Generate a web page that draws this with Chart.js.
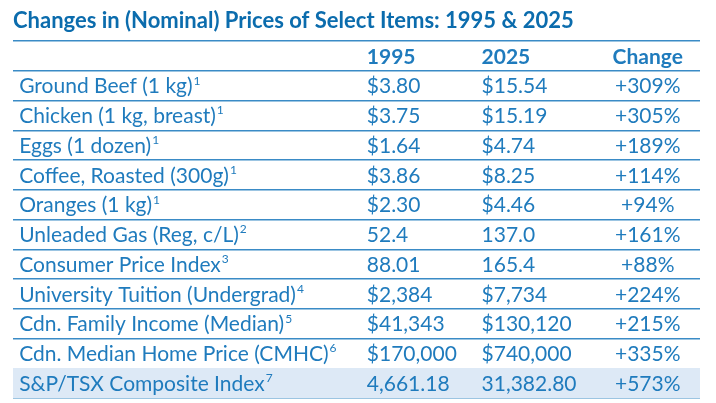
<!DOCTYPE html>
<html>
<head>
<meta charset="utf-8">
<title>Changes in (Nominal) Prices of Select Items: 1995 &amp; 2025</title>
<script src="https://cdn.jsdelivr.net/npm/chart.js@4.4.1/dist/chart.umd.min.js"></script>
<style>
  html, body { margin: 0; padding: 0; background: #fff; }
  #wrap { position: relative; width: 716px; height: 403px; }
</style>
</head>
<body>
<div id="wrap"><canvas id="priceTable"></canvas></div>
<script>
// --- DADOS DA TABELA ---
const items = [
  'Ground Beef (1 kg)',
  'Chicken (1 kg, breast)',
  'Eggs (1 dozen)',
  'Coffee, Roasted (300g)',
  'Oranges (1 kg)',
  'Unleaded Gas (Reg, c/L)',
  'Consumer Price Index',
  'University Tuition (Undergrad)',
  'Cdn. Family Income (Median)',
  'Cdn. Median Home Price (CMHC)',
  'S&P/TSX Composite Index'
];
const footnotes = ['1', '1', '1', '1', '1', '2', '3', '4', '5', '6', '7'];
const columns = ['1995', '2025', 'Change'];

const prices1995 = [3.80, 3.75, 1.64, 3.86, 2.30, 52.4, 88.01, 2384, 41343, 170000, 4661.18];
const prices2025 = [15.54, 15.19, 4.74, 8.25, 4.46, 137.0, 165.4, 7734, 130120, 740000, 31382.80];
const changePct = [309, 305, 189, 114, 94, 161, 88, 224, 215, 335, 573];

// formato de cada linha: prefixo e casas decimais
const prefixes = ['$', '$', '$', '$', '$', '', '', '$', '$', '$', ''];
const decimals1995 = [2, 2, 2, 2, 2, 1, 2, 0, 0, 0, 2];
const decimals2025 = [2, 2, 2, 2, 2, 1, 1, 0, 0, 0, 2];

const highlightRow = 'S&P/TSX Composite Index';

function fmt(v, d, prefix) {
  return prefix + v.toLocaleString('en-US', { minimumFractionDigits: d, maximumFractionDigits: d });
}

const BLUE_TITLE = '#0b6cad';
const BLUE_TEXT = '#1f7bbd';
const BLUE_LINE = '#3a8bc6';
const FONT = 'Lato, "Open Sans", sans-serif';

// linha 0 = cabecalho
const rowLabels = ['header'].concat(items);

// posicoes das colunas no eixo x (0-100)
const colAnchors = { item: 0.9, c1995: 51.5, c2025: 68.2, change: 92.4 };

const tablePlugin = {
  id: 'tableText',
  afterDatasetsDraw(chart) {
    const ctx = chart.ctx;
    const x = chart.scales.x;
    const y = chart.scales.y;
    ctx.save();
    ctx.fillStyle = BLUE_TEXT;
    ctx.textBaseline = 'middle';

    // cabecalho
    const yh = y.getPixelForValue(0) + 1;
    ctx.font = 'bold 21px ' + FONT;
    ctx.textAlign = 'left';
    ctx.fillText(columns[0], x.getPixelForValue(colAnchors.c1995), yh);
    ctx.fillText(columns[1], x.getPixelForValue(colAnchors.c2025), yh);
    ctx.textAlign = 'center';
    ctx.fillText(columns[2], x.getPixelForValue(colAnchors.change), yh);

    // linhas
    items.forEach(function(label, i) {
      const yp = y.getPixelForValue(i + 1) + 1;
      ctx.font = '21px ' + FONT;
      ctx.textAlign = 'left';
      const xl = x.getPixelForValue(colAnchors.item);
      ctx.fillText(label, xl, yp);
      const w = ctx.measureText(label).width;
      ctx.font = '12px ' + FONT;
      ctx.fillText(footnotes[i], xl + w + 1, yp - 6);

      ctx.font = '21px ' + FONT;
      ctx.fillText(fmt(prices1995[i], decimals1995[i], prefixes[i]), x.getPixelForValue(colAnchors.c1995), yp);
      ctx.fillText(fmt(prices2025[i], decimals2025[i], prefixes[i]), x.getPixelForValue(colAnchors.c2025), yp);
      ctx.textAlign = 'center';
      ctx.fillText('+' + changePct[i] + '%', x.getPixelForValue(colAnchors.change), yp);
    });
    ctx.restore();
  }
};

const ctxTable = document.getElementById('priceTable');
new Chart(ctxTable, {
  type: 'bar',
  data: {
    labels: rowLabels,
    datasets: [{
      label: 'highlight',
      data: rowLabels.map(function(r) { return r === highlightRow ? [0, 100] : null; }),
      backgroundColor: '#dde9f6',
      borderWidth: 0,
      barPercentage: 1,
      categoryPercentage: 1
    }]
  },
  options: {
    indexAxis: 'y',
    responsive: true,
    maintainAspectRatio: false,
    animation: false,
    devicePixelRatio: 1,
    layout: { padding: { left: 13, right: 16, top: 0, bottom: 5 } },
    plugins: {
      legend: { display: false },
      tooltip: { enabled: false },
      title: {
        display: true,
        text: 'Changes in (Nominal) Prices of Select Items: 1995 & 2025',
        align: 'start',
        color: BLUE_TITLE,
        font: { family: FONT, size: 22, weight: 'bold', lineHeight: 1.2 },
        padding: { top: 8, bottom: 6.6 }
      }
    },
    scales: {
      x: { type: 'linear', min: 0, max: 100, display: false },
      y: {
        type: 'category',
        offset: true,
        z: 1,
        ticks: { display: false },
        border: { display: false },
        grid: { offset: true, color: BLUE_LINE, lineWidth: 1.5, drawTicks: false }
      }
    }
  },
  plugins: [tablePlugin]
});
</script>
</body>
</html>
